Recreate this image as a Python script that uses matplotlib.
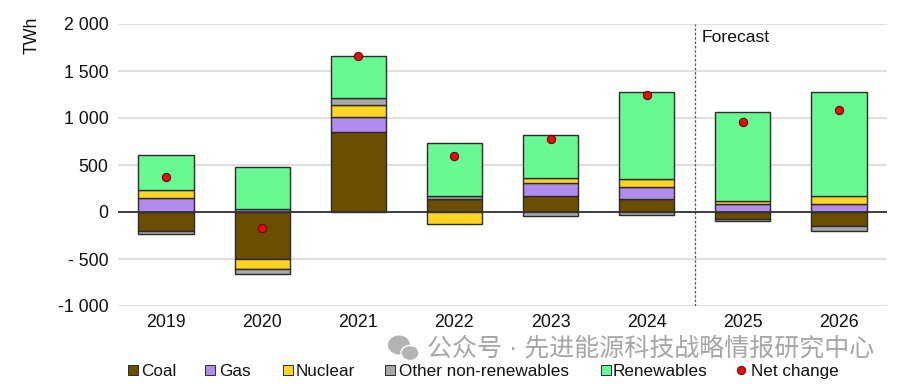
import matplotlib
matplotlib.use("Agg")
import matplotlib.pyplot as plt
import numpy as np
from matplotlib.lines import Line2D
from matplotlib.patches import Ellipse

years = ["2019", "2020", "2021", "2022", "2023", "2024", "2025", "2026"]
coal = [-200, -500, 850, 140, 165, 140, -75, -150]
gas = [150, 30, 160, 0, 140, 125, 80, 90]
nuclear = [80, -110, 130, -130, 60, 85, 40, 80]
other = [-30, -45, 70, 35, -40, -30, -20, -50]
renewables = [375, 450, 450, 555, 450, 925, 940, 1105]
net_change = [375, -175, 1660, 600, 775, 1250, 960, 1080]

y_ticks = [-1000, -500, 0, 500, 1000, 1500, 2000]
y_labels = ["-1 000", "- 500", "0", "500", "1 000", "1 500", "2 000"]

series = [
    ("Coal", coal, "#6b4e00"),
    ("Gas", gas, "#b08cec"),
    ("Nuclear", nuclear, "#ffd422"),
    ("Other non-renewables", other, "#a8a8a8"),
    ("Renewables", renewables, "#69f993"),
]

plt.rcParams["font.family"] = ["Liberation Sans", "Noto Sans CJK SC", "DejaVu Sans"]

W, H = 904, 384
fig = plt.figure(figsize=(W / 100, H / 100), dpi=100)
ax = fig.add_axes([118 / W, 1 - 306 / H, (887 - 118) / W, (306 - 24) / H])

x = np.arange(len(years))
pos_base = np.zeros(len(years))
neg_base = np.zeros(len(years))
for name, values, color in series:
    values = np.array(values, dtype=float)
    base = np.where(values >= 0, pos_base, neg_base)
    ax.bar(x, values, 0.575, bottom=base, color=color, edgecolor="#2b2b2b",
           linewidth=1.0, zorder=3)
    pos_base += np.clip(values, 0, None)
    neg_base += np.clip(values, None, 0)

ax.axhline(0, color="#333333", linewidth=1.3, zorder=4)
ax.plot(x, net_change, "o", color="#ff0000", markeredgecolor="#3a1010",
        markeredgewidth=0.7, markersize=6, zorder=5)
ax.axvline(5.5, color="#555555", linewidth=0.9, linestyle=(0, (2, 1.5)), zorder=2)
ax.text(5.575, 1860, "Forecast", fontsize=12.6, color="#111111", va="center")

ax.set_xlim(-0.5, 7.5)
ax.set_ylim(-1000, 2000)
ax.set_xticks(x)
ax.set_xticklabels(years, fontsize=12.8, color="#111111")
ax.set_yticks(y_ticks)
ax.set_yticklabels(y_labels, fontsize=12.8, color="#111111")
ax.tick_params(length=0)
ax.tick_params(axis="x", pad=6)
ax.tick_params(axis="y", pad=7)
ax.grid(axis="y", color="#e0e0e0", linewidth=1.5, zorder=0)
ax.set_axisbelow(True)
for spine in ax.spines.values():
    spine.set_visible(False)
fig.text(32 / W, 1 - 35 / H, "TWh", fontsize=12.8, rotation=90, ha="center", va="center",
         color="#111111")

overlay = fig.add_axes([0, 0, 1, 1], facecolor="none")
overlay.set_xlim(0, W)
overlay.set_ylim(H, 0)
overlay.axis("off")

# legend by hand, spacing in the original is uneven
legend_y = 370
legend_x = [133, 210, 288, 390, 606, 741]
labels = [s[0] for s in series] + ["Net change"]
colors = [s[2] for s in series] + ["#ff0000"]
text_x = [141, 219, 296, 399, 613, 751]
for i in range(len(labels)):
    marker = "o" if labels[i] == "Net change" else "s"
    size = 6 if marker == "o" else 7
    overlay.add_line(Line2D([legend_x[i]], [legend_y], linestyle="", marker=marker, markersize=size,
                            markerfacecolor=colors[i], markeredgecolor="#2b2b2b", markeredgewidth=0.7))
    overlay.text(text_x[i], legend_y, labels[i], fontsize=12.3, color="#111111",
                 ha="left", va="center_baseline")

# watermark
overlay.text(427, 348, "公众号 · 先进能源科技战略情报研究中心", fontsize=18,
             color="#a6a6a6", ha="left", va="center")
overlay.add_patch(Ellipse((399, 345), 22, 19, color="#b4b4b4", ec="none"))
overlay.add_patch(Ellipse((410, 353), 18, 15, color="#b4b4b4", ec="white", lw=1))

fig.savefig("out.png", dpi=100)
